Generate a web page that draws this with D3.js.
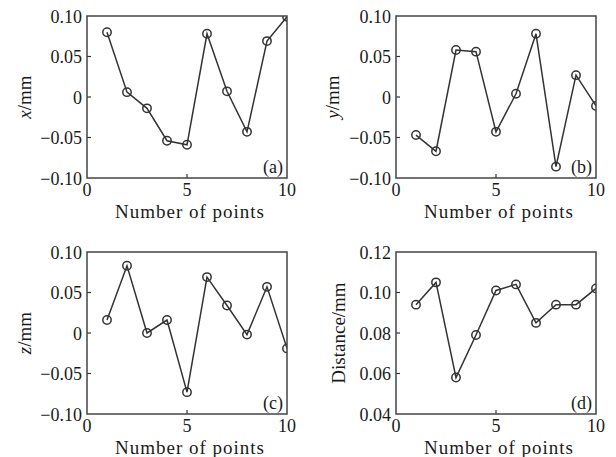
<!DOCTYPE html>
<html>
<head>
<meta charset="utf-8">
<script src="https://cdn.jsdelivr.net/npm/d3@7"></script>
<style>
    body { margin: 0; background: #fff; }
    svg { display: block; }
    text { font-family: "Liberation Serif", "Times New Roman", serif; fill: #1a1a1a; }
</style>
</head>
<body>
<div id="chart"></div>
<script>
var pointNumbers = [1, 2, 3, 4, 5, 6, 7, 8, 9, 10];
var xDeviation = [0.080, 0.006, -0.014, -0.054, -0.059, 0.078, 0.007, -0.043, 0.069, 0.099];
var yDeviation = [-0.047, -0.067, 0.058, 0.056, -0.043, 0.004, 0.078, -0.086, 0.027, -0.011];
var zDeviation = [0.016, 0.083, 0.000, 0.016, -0.073, 0.069, 0.034, -0.002, 0.057, -0.019];
var distance = [0.094, 0.105, 0.058, 0.079, 0.101, 0.104, 0.085, 0.094, 0.094, 0.102];

var xTicks = [0, 5, 10];
var deviationTicks = [-0.10, -0.05, 0, 0.05, 0.10];
var distanceTicks = [0.04, 0.06, 0.08, 0.10, 0.12];

var width = 616, height = 457;
var plotW = 200, plotH = 162;

var svg = d3.select('#chart')
    .append('svg')
    .attr('width', width)
    .attr('height', height);

svg.append('rect')
    .attr('width', width)
    .attr('height', height)
    .attr('fill', '#fff');

var fmt = function (d) {
    return d === 0 ? '0' : d3.format('.2f')(d);
};

function drawPanel(id, left, top, values, ticks, axisVar, axisRest, tag, labelX) {
    var x = d3.scaleLinear().domain([0, 10]).range([0, plotW]);
    var y = d3.scaleLinear().domain(d3.extent(ticks)).range([plotH, 0]);

    var g = svg.append('g')
        .attr('transform', 'translate(' + left + ',' + top + ')');

    g.append('clipPath')
        .attr('id', 'clip-' + id)
        .append('rect')
        .attr('width', plotW)
        .attr('height', plotH);

    // inward ticks
    g.append('g')
        .selectAll('line')
        .data(ticks.slice(1, -1))
        .enter().append('line')
        .attr('x1', 0).attr('x2', 4)
        .attr('y1', function (d) { return y(d); })
        .attr('y2', function (d) { return y(d); })
        .attr('stroke', '#333').attr('stroke-width', 1.2);

    g.append('g')
        .selectAll('line')
        .data(xTicks.slice(1, -1))
        .enter().append('line')
        .attr('x1', function (d) { return x(d); })
        .attr('x2', function (d) { return x(d); })
        .attr('y1', plotH).attr('y2', plotH - 4)
        .attr('stroke', '#333').attr('stroke-width', 1.2);

    // tick labels
    g.append('g')
        .selectAll('text')
        .data(ticks)
        .enter().append('text')
        .attr('x', -5)
        .attr('y', function (d) { return y(d); })
        .attr('dy', '0.38em')
        .attr('text-anchor', 'end')
        .style('font-size', '18px')
        .text(fmt);

    g.append('g')
        .selectAll('text')
        .data(xTicks)
        .enter().append('text')
        .attr('x', function (d) { return x(d); })
        .attr('y', plotH + 18)
        .attr('text-anchor', 'middle')
        .style('font-size', '18px')
        .text(function (d) { return d; });

    // data line + circle markers
    var pts = pointNumbers.map(function (n, i) { return [n, values[i]]; });
    var plot = g.append('g').attr('clip-path', 'url(#clip-' + id + ')');

    plot.append('path')
        .datum(pts)
        .attr('d', d3.line()
            .x(function (d) { return x(d[0]); })
            .y(function (d) { return y(d[1]); }))
        .attr('fill', 'none')
        .attr('stroke', '#333')
        .attr('stroke-width', 1.5);

    plot.selectAll('circle')
        .data(pts)
        .enter().append('circle')
        .attr('cx', function (d) { return x(d[0]); })
        .attr('cy', function (d) { return y(d[1]); })
        .attr('r', 4.2)
        .attr('fill', 'none')
        .attr('stroke', '#333')
        .attr('stroke-width', 1.5);

    // frame
    g.append('rect')
        .attr('width', plotW)
        .attr('height', plotH)
        .attr('fill', 'none')
        .attr('stroke', '#444')
        .attr('stroke-width', 1.5);

    g.append('text')
        .attr('x', plotW - 4)
        .attr('y', plotH - 5)
        .attr('text-anchor', 'end')
        .style('font-size', '18px')
        .text(tag);

    // axis titles
    g.append('text')
        .attr('x', plotW / 2 + 3)
        .attr('y', plotH + 40)
        .attr('text-anchor', 'middle')
        .style('font-size', '19px')
        .style('letter-spacing', '1px')
        .text('Number of points');

    var yl = g.append('text')
        .attr('transform', 'translate(' + labelX + ',' + (plotH / 2) + ') rotate(-90)')
        .attr('text-anchor', 'middle')
        .style('font-size', '19px');
    if (axisVar) {
        yl.append('tspan').style('font-style', 'italic').text(axisVar);
    }
    yl.append('tspan').text(axisRest);
}

drawPanel('a', 87, 16, xDeviation, deviationTicks, 'x', '/mm', '(a)', -56);
drawPanel('b', 396, 16, yDeviation, deviationTicks, 'y', '/mm', '(b)', -57);
drawPanel('c', 87, 252, zDeviation, deviationTicks, 'z', '/mm', '(c)', -56);
drawPanel('d', 396, 252, distance, distanceTicks, null, 'Distance/mm', '(d)', -51);
</script>
</body>
</html>
